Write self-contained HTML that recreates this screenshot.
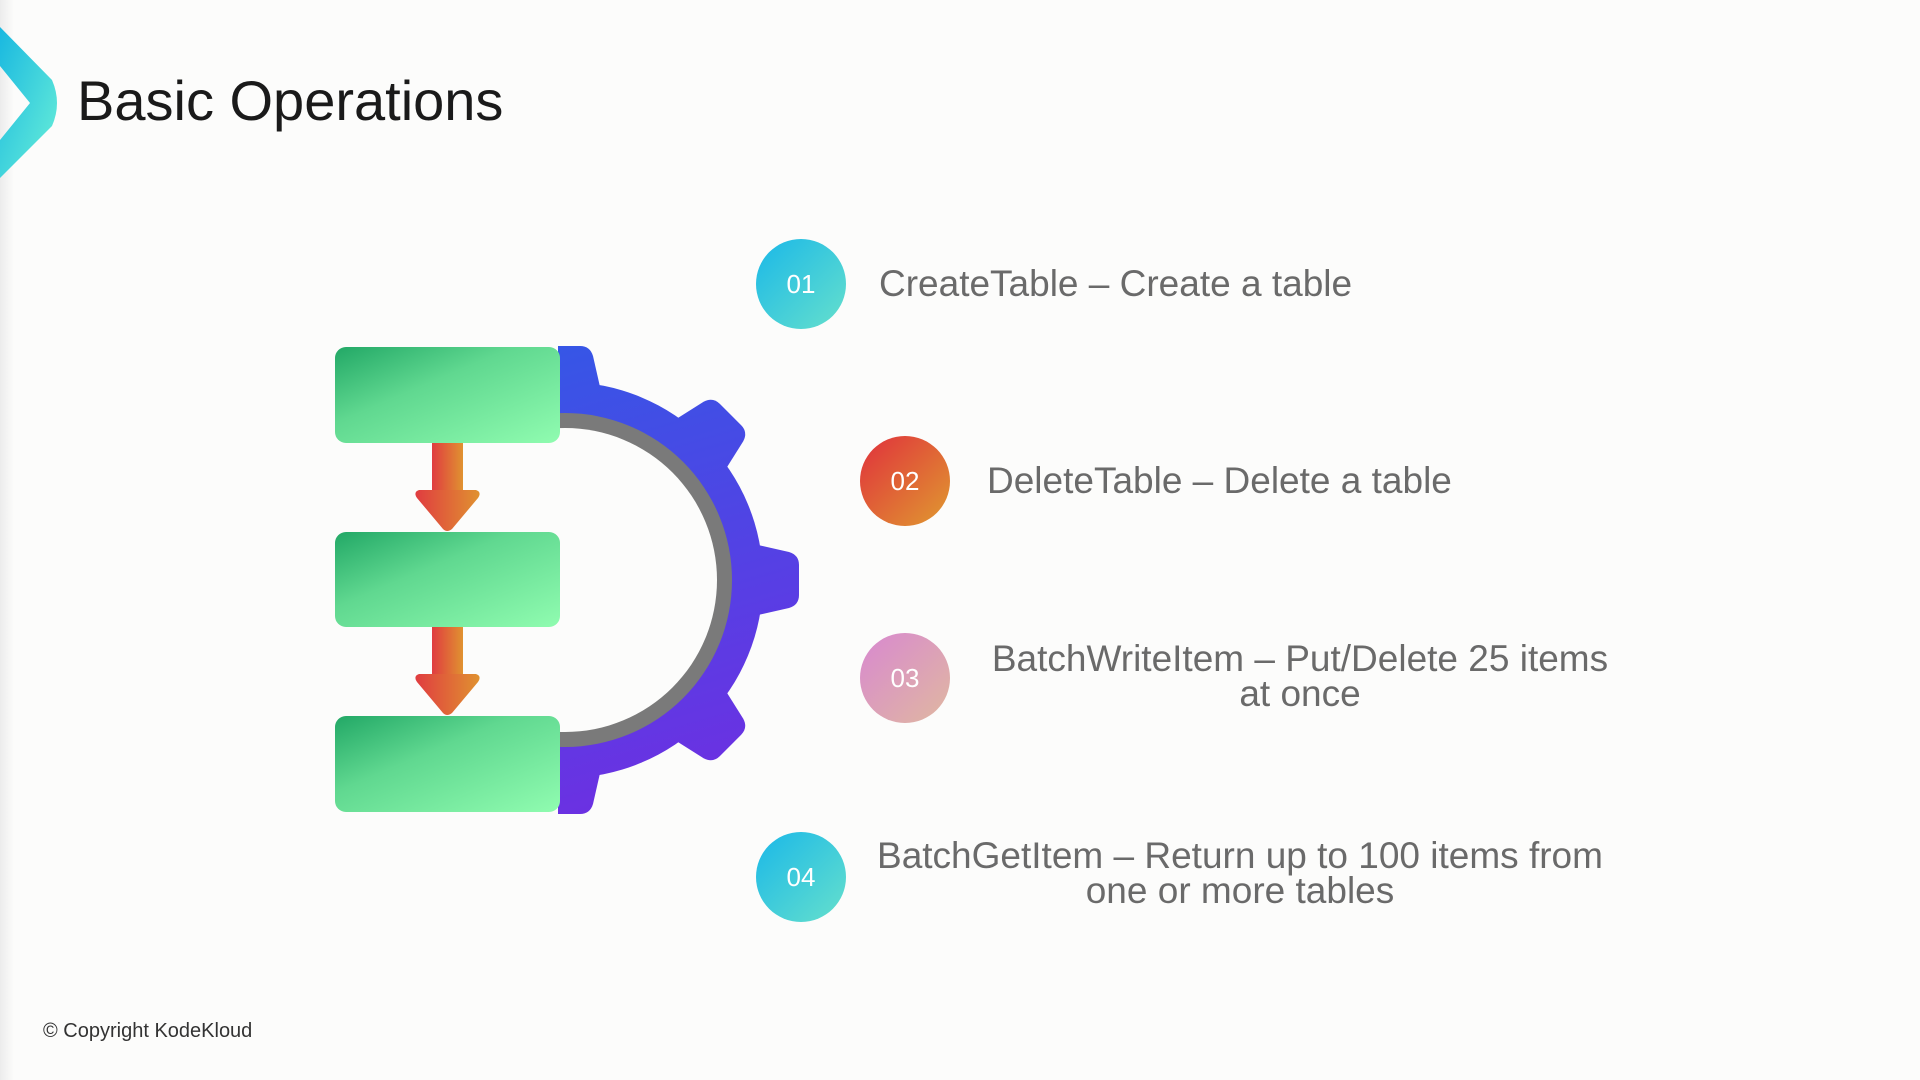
<!DOCTYPE html>
<html><head><meta charset="utf-8"><style>
body{margin:0;width:1920px;height:1080px;background:#fcfcfb;overflow:hidden;position:relative;font-family:"Liberation Sans",sans-serif}
.t{position:absolute;color:#6a6a6a;font-size:37px;white-space:nowrap;line-height:35px}
.w{width:1000px;text-align:center}
.c{position:absolute;width:90px;height:90px;border-radius:50%;color:#fff;font-size:26px;line-height:90px;text-align:center}
</style></head><body>
<div style="position:absolute;left:0;top:0;width:14px;height:1080px;background:linear-gradient(90deg,#ececec,#fcfcfb)"></div>
<svg width="1920" height="1080" style="position:absolute;left:0;top:0">
<defs>
<linearGradient id="cy" x1="0" y1="0" x2="1" y2="1"><stop offset="0" stop-color="#19b8e0"/><stop offset="1" stop-color="#6af0d8"/></linearGradient>
<linearGradient id="gr" gradientUnits="userSpaceOnUse" x1="560" y1="345" x2="700" y2="815"><stop offset="0" stop-color="#3656e6"/><stop offset="1" stop-color="#6f2ee2"/></linearGradient>
<linearGradient id="bx" x1="0" y1="0" x2="1" y2="1"><stop offset="0" stop-color="#22a866"/><stop offset="0.4" stop-color="#60d890"/><stop offset="1" stop-color="#90fcb0"/></linearGradient>
<linearGradient id="ar" x1="0" y1="0" x2="1" y2="0"><stop offset="0" stop-color="#e03c40"/><stop offset="1" stop-color="#e09230"/></linearGradient>
<clipPath id="cl"><rect x="558" y="300" width="300" height="560"/></clipPath>
<mask id="gm">
<circle cx="565" cy="580" r="198" fill="#fff"/>
<g fill="#fff" transform="translate(565,580)">
<path id="tooth" d="M-38 -180 L-28 -224 Q-25 -234 -15 -234 L15 -234 Q25 -234 28 -224 L38 -180 Z"/>
<use href="#tooth" transform="rotate(45)"/>
<use href="#tooth" transform="rotate(90)"/>
<use href="#tooth" transform="rotate(135)"/>
<use href="#tooth" transform="rotate(180)"/>
</g>
</mask>
</defs>
<path d="M0 27 L52 80 Q62 103 52 126 L0 178 L0 140 L30 103 L0 66 Z" fill="url(#cy)"/>
<g clip-path="url(#cl)">
<rect x="558" y="330" width="260" height="500" fill="url(#gr)" mask="url(#gm)"/>
<circle cx="565" cy="580" r="167" fill="#7a7a7a"/>
<circle cx="565" cy="580" r="152" fill="#fcfcfb"/>
</g>
<g fill="url(#ar)">
<rect x="432" y="440" width="31" height="50"/>
<path d="M419 490 L476 490 Q482 492 478 498 L452 529 Q447 533 443 529 L417 498 Q413 492 419 490Z"/>
<rect x="432" y="624" width="31" height="50"/>
<path d="M419 674 L476 674 Q482 676 478 682 L452 713 Q447 717 443 713 L417 682 Q413 676 419 674Z"/>
</g>
<rect x="335" y="347" width="225" height="96" rx="11" fill="url(#bx)"/>
<rect x="335" y="532" width="225" height="95" rx="11" fill="url(#bx)"/>
<rect x="335" y="716" width="225" height="96" rx="11" fill="url(#bx)"/>
</svg>
<div style="position:absolute;left:77px;top:68px;font-size:56px;color:#1a1a1a">Basic Operations</div>
<div class="c" style="left:756px;top:239px;background:linear-gradient(135deg,#1ab8e8,#66e0cc)">01</div>
<div class="c" style="left:860px;top:436px;background:linear-gradient(135deg,#e0303c,#e09a30)">02</div>
<div class="c" style="left:860px;top:633px;background:linear-gradient(135deg,#d888d0,#e0b8a0)">03</div>
<div class="c" style="left:756px;top:832px;background:linear-gradient(135deg,#1ab8e8,#66e0cc)">04</div>
<div class="t" style="left:879px;top:266px">CreateTable – Create a table</div>
<div class="t" style="left:987px;top:463px">DeleteTable – Delete a table</div>
<div class="t w" style="left:800px;top:641px">BatchWriteItem – Put/Delete 25 items<br>at once</div>
<div class="t w" style="left:740px;top:838px">BatchGetItem – Return up to 100 items from<br>one or more tables</div>
<div style="position:absolute;left:43px;top:1020px;font-size:20px;color:#333">© Copyright KodeKloud</div>
</body></html>
